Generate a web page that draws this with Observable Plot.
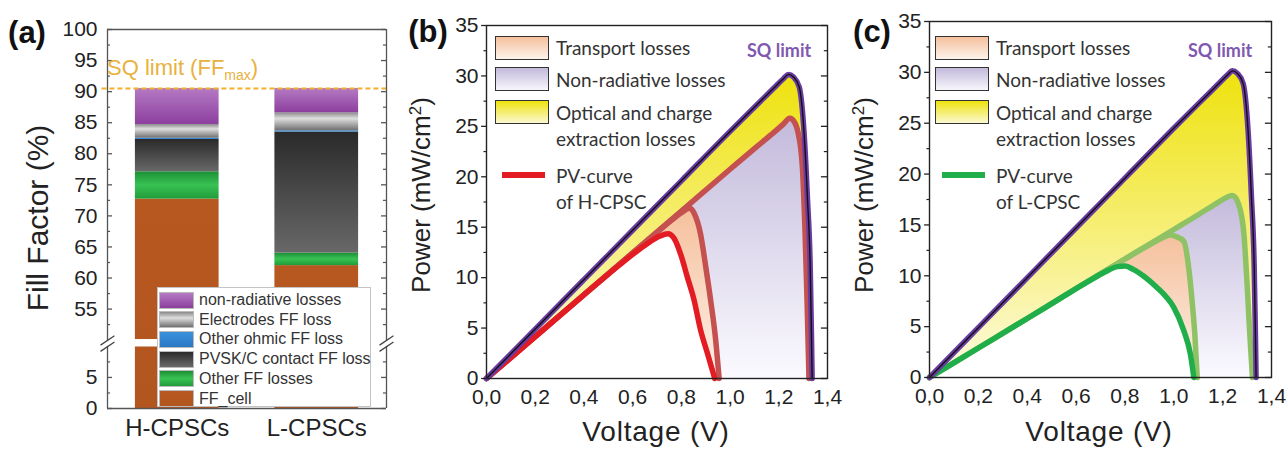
<!DOCTYPE html>
<html><head><meta charset="utf-8">
<script src="https://cdn.jsdelivr.net/npm/d3@7"></script>
<script src="https://cdn.jsdelivr.net/npm/@observablehq/plot@0.6"></script>
<style>
body{margin:0;background:#fff;}
#root{position:relative;width:1287px;height:450px;overflow:hidden;font-family:"Liberation Sans",Arial,sans-serif;color:#222;}
.abs{position:absolute;white-space:nowrap;line-height:1;}
</style></head><body><div id="root"></div>
<script>
// ---------- DATA ----------
// Panel (a): stacked fill-factor contributions (%)
const categories = ["H-CPSCs", "L-CPSCs"];
const lossNames = ["FF_cell", "Other FF losses", "PVSK/C contact FF loss", "Other ohmic FF loss", "Electrodes FF loss", "non-radiative losses"];
const hcpscValues = [72.7, 4.4, 5.2, 0.2, 2.2, 5.8];
const lcpscValues = [62.0, 2.0, 19.5, 0.2, 2.9, 3.9];
const sqLimitFF = 90.5;
const ffTickLabels = [0, 5, 55, 60, 65, 70, 75, 80, 85, 90, 95, 100];
const ffMinorTicks = [2.5, 7.5, 52.5, 57.5, 62.5, 67.5, 72.5, 77.5, 82.5, 87.5, 92.5, 97.5];

// Panels (b),(c): power-voltage curves (V, mW/cm2)
const sqVoltage = [0, 0.2, 0.4, 0.6, 0.8, 1.0, 1.1, 1.18, 1.22, 1.24, 1.26, 1.284, 1.304, 1.318, 1.329, 1.334, 1.337];
const sqPower   = [0, 4.9, 9.8, 14.7, 19.6, 24.5, 26.9, 28.8, 29.75, 30.15, 29.9, 28.9, 24.3, 17.7, 11.1, 4.5, 0];

const hUpperVoltage = [0, 0.2, 0.4, 0.6, 0.8, 1.0, 1.1, 1.18, 1.22, 1.245, 1.265, 1.28, 1.297, 1.308, 1.316, 1.324];
const hUpperPower   = [0, 4.15, 8.3, 12.45, 16.6, 20.75, 22.8, 24.4, 25.25, 25.8, 25.4, 24.3, 20.9, 14.4, 7.8, 0];
const hMidVoltage = [0, 0.2, 0.4, 0.6, 0.7, 0.76, 0.8, 0.835, 0.852, 0.879, 0.9, 0.92, 0.941, 0.955];
const hMidPower   = [0, 4.15, 8.3, 12.45, 14.5, 15.7, 16.45, 16.9, 16.4, 14.3, 11.1, 7.8, 3.8, 0];
const hPvVoltage = [0, 0.2, 0.4, 0.55, 0.65, 0.71, 0.745, 0.77, 0.8, 0.824, 0.852, 0.879, 0.907, 0.927, 0.937];
const hPvPower   = [0, 4.15, 8.3, 11.35, 13.2, 14.1, 14.35, 13.9, 12.1, 10.1, 7.8, 4.8, 2.5, 0.85, 0];

const lUpperVoltage = [0, 0.2, 0.4, 0.6, 0.8, 1.0, 1.1, 1.18, 1.22, 1.24, 1.266, 1.287, 1.3, 1.311, 1.322];
const lUpperPower   = [0, 2.9, 5.8, 8.75, 11.65, 14.55, 16.0, 17.2, 17.75, 17.9, 17.0, 14.1, 9.2, 4.3, 0];
const lMidVoltage = [0, 0.2, 0.4, 0.6, 0.8, 0.9, 0.95, 0.985, 1.01, 1.041, 1.061, 1.075, 1.086, 1.096];
const lMidPower   = [0, 2.9, 5.8, 8.75, 11.65, 13.05, 13.7, 14.0, 13.85, 13.4, 10.8, 7.5, 4.3, 0];
const lPvVoltage = [0, 0.2, 0.4, 0.55, 0.65, 0.72, 0.77, 0.8, 0.836, 0.88, 0.931, 0.97, 1.0, 1.041, 1.068, 1.082];
const lPvPower   = [0, 2.9, 5.8, 8.0, 9.45, 10.4, 10.9, 10.95, 10.6, 9.9, 8.85, 7.9, 6.9, 4.6, 2.3, 0];

const powerTicks = [0, 5, 10, 15, 20, 25, 30, 35];
const powerMinor = [2.5, 7.5, 12.5, 17.5, 22.5, 27.5, 32.5];
const voltageTicks = [0, 0.2, 0.4, 0.6, 0.8, 1.0, 1.2, 1.4];

// ---------- HELPERS ----------
const root = document.getElementById("root");
const FONT = '"Liberation Sans", Arial, sans-serif';
const LFONT = 'Lato, "Open Sans", sans-serif';
function zip(vs, ps) { return vs.map((v, i) => ({v, p: ps[i]})); }
function addText(html, x, y, css, anchor = "center", rotate = 0) {
  const d = document.createElement("div");
  d.className = "abs";
  d.innerHTML = html;
  d.style.cssText += css;
  d.style.left = x + "px";
  d.style.top = y + "px";
  const tx = anchor === "center" ? "-50%" : "0";
  d.style.transform = `translate(${tx},-50%)`;
  if (rotate) { d.style.transform = `translate(-50%,-50%) rotate(${rotate}deg)`; }
  root.appendChild(d);
  return d;
}
function addGradients(svg, list) {
  const defs = d3.select(svg).insert("defs", ":first-child");
  for (const [id, stops] of list) {
    const g = defs.append("linearGradient").attr("id", id).attr("x1", 0).attr("y1", 0).attr("x2", 0).attr("y2", 1);
    for (const [o, c] of stops) g.append("stop").attr("offset", o).attr("stop-color", c);
  }
}
function placeSvg(svg, left) {
  svg.style.position = "absolute";
  svg.style.left = left + "px";
  svg.style.top = "0px";
  svg.style.overflow = "visible";
  root.appendChild(svg);
}

// ---------- PANEL (a) ----------
const BREAK_LO = 10, BREAK_SHIFT = 39;
const toD = v => (v <= BREAK_LO ? v : v - BREAK_SHIFT);
const fromD = d => (d <= BREAK_LO ? d : d + BREAK_SHIFT);
const gradIds = ["ffcell", "other", "pvsk", "ohmic", "electrodes", "nonrad"];
const rows = [];
[hcpscValues, lcpscValues].forEach((vals, ci) => {
  let acc = 0;
  vals.forEach((v, li) => { rows.push({pos: ci + 1, li, y1: acc, y2: acc + v}); acc += v; });
});
const BAR_HALF = 0.3, MAJ = 0.036, MIN = 0.022;
const gapLo = 9.9, gapHi = 11.1;
const svgA = Plot.plot({
  width: 400, height: 450,
  marginLeft: 107, marginRight: 14, marginTop: 29, marginBottom: 42,
  x: {domain: [0.5, 2.5]},
  y: {domain: [0, 61]},
  color: {type: "identity"},
  style: {fontFamily: FONT, fontSize: "21px", color: "#222", background: "transparent"},
  marks: [
    Plot.rect(rows, {x1: r => r.pos - BAR_HALF, x2: r => r.pos + BAR_HALF, y1: r => toD(r.y1), y2: r => toD(r.y2), fill: r => `url(#ga-${gradIds[r.li]})`}),
    Plot.rect([0], {x1: 0.5, x2: 2.5, y1: gapLo, y2: gapHi, fill: "white"}),
    Plot.ruleY([sqLimitFF], {y: v => toD(v), x1: 0.46, x2: 2.52, stroke: "#f2b02c", strokeWidth: 2, strokeDasharray: "5,3"}),
    Plot.ruleY([0, 61], {stroke: "#555", strokeWidth: 1.3}),
    Plot.ruleX([0.5, 2.5], {y1: 0, y2: 10.0, stroke: "#555", strokeWidth: 1.3}),
    Plot.ruleX([0.5, 2.5], {y1: 10.9, y2: 61, stroke: "#555", strokeWidth: 1.3}),
    Plot.link([0.5, 2.5].flatMap(x => [{x, y: 9.2}, {x, y: 10.2}]), {x1: d => d.x - 0.05, x2: d => d.x + 0.05, y1: d => d.y, y2: d => d.y + 1.5, stroke: "#444", strokeWidth: 1.3}),
    Plot.ruleY(ffTickLabels.map(toD), {x1: 0.5, x2: 0.5 + MAJ, stroke: "#555", strokeWidth: 1.3}),
    Plot.ruleY(ffTickLabels.map(toD), {x1: 2.5 - MAJ, x2: 2.5, stroke: "#555", strokeWidth: 1.3}),
    Plot.ruleY(ffMinorTicks.map(toD), {x1: 0.5, x2: 0.5 + MIN, stroke: "#555", strokeWidth: 1.2}),
    Plot.ruleY(ffMinorTicks.map(toD), {x1: 2.5 - MIN, x2: 2.5, stroke: "#555", strokeWidth: 1.2}),
    Plot.axisY({ticks: ffTickLabels.map(toD), tickFormat: d => String(fromD(d)), tickSize: 0, tickPadding: 10, fontSize: 21, label: null}),
    Plot.axisX({ticks: [1, 2], tickFormat: i => categories[i - 1], tickSize: 0, tickPadding: 10, fontSize: 24, label: null})
  ]
});
addGradients(svgA, [
  ["ga-ffcell", [[0, "#b65820"], [1, "#b3551e"]]],
  ["ga-other", [[0, "#1b8f35"], [0.5, "#39c254"], [1, "#1f9c3a"]]],
  ["ga-pvsk", [[0, "#2a2a2a"], [1, "#686868"]]],
  ["ga-ohmic", [[0, "#2e86d4"], [1, "#2e86d4"]]],
  ["ga-electrodes", [[0, "#8a8a8a"], [0.35, "#dedede"], [1, "#707070"]]],
  ["ga-nonrad", [[0, "#b57ac4"], [1, "#8c3f9e"]]]
]);
placeSvg(svgA, 0);

addText("(a)", 27, 33, `font:bold 31px ${FONT};color:#111;`);
addText("Fill Factor (%)", 38, 218, `font:30px ${FONT};color:#222;`, "center", -90);
addText('SQ limit (FF<sub style="font-size:14px;vertical-align:-5px">max</sub>)', 107, 69, `font:22px ${FONT};color:#e8b140;`, "left");

// legend (a)
const swatchCss = {
  "non-radiative losses": "linear-gradient(#b57ac4,#8c3f9e)",
  "Electrodes FF loss": "linear-gradient(#8a8a8a,#dedede 40%,#707070)",
  "Other ohmic FF loss": "linear-gradient(#3a92dc,#2a78c4)",
  "PVSK/C contact FF loss": "linear-gradient(#2a2a2a,#6a6a6a)",
  "Other FF losses": "linear-gradient(#1b8f35,#39c254 50%,#1f9c3a)",
  "FF_cell": "linear-gradient(#b65820,#b3551e)"
};
const legA = document.createElement("div");
legA.style.cssText = "position:absolute;left:157px;top:287px;width:214px;height:120px;background:#fff;border:1px solid #c4c4c4;box-sizing:border-box;";
root.appendChild(legA);
lossNames.slice().reverse().forEach((name, i) => {
  const cy = 12 + i * 19.7;
  const sw = document.createElement("div");
  sw.style.cssText = `position:absolute;left:1px;top:${cy - 8.5}px;width:35px;height:17px;background:${swatchCss[name]};border:1px solid #bbb;box-sizing:border-box;`;
  legA.appendChild(sw);
  const t = document.createElement("div");
  t.className = "abs";
  t.textContent = name;
  t.style.cssText += `left:41px;top:${cy}px;transform:translate(0,-50%);font:16px ${FONT};color:#333;`;
  legA.appendChild(t);
});

// ---------- PANELS (b),(c) ----------
function pvPanel(cfg) {
  const sq = zip(sqVoltage, sqPower);
  const up = zip(cfg.upperV, cfg.upperP), mid = zip(cfg.midV, cfg.midP), pv = zip(cfg.pvV, cfg.pvP);
  const curve = "monotone-x";
  const TK = 0.025, TKm = 0.013;
  const svg = Plot.plot({
    width: cfg.width, height: 450,
    marginLeft: cfg.mL, marginRight: cfg.mR, marginTop: cfg.mT, marginBottom: cfg.mB,
    x: {domain: [0, 1.4]},
    y: {domain: [0, 35]},
    style: {fontFamily: FONT, fontSize: "21px", color: "#222", background: "transparent"},
    marks: [
      Plot.areaY(sq, {x: "v", y: "p", curve, fill: `url(#${cfg.id}-yellow)`}),
      Plot.areaY(up, {x: "v", y: "p", curve, fill: `url(#${cfg.id}-lav)`}),
      Plot.areaY(mid, {x: "v", y: "p", curve, fill: `url(#${cfg.id}-peach)`}),
      Plot.areaY(pv, {x: "v", y: "p", curve, fill: "white"}),
      Plot.line(up, {x: "v", y: "p", curve, stroke: cfg.lossColor, strokeWidth: 5.5}),
      Plot.line(mid, {x: "v", y: "p", curve, stroke: cfg.lossColor, strokeWidth: 5.5}),
      Plot.line(pv, {x: "v", y: "p", curve, stroke: cfg.pvColor, strokeWidth: 5.5}),
      Plot.line(sq, {x: "v", y: "p", curve, stroke: "#6a3ca3", strokeWidth: 5.5}),
      Plot.line(sq, {x: "v", y: "p", curve, stroke: "#111", strokeWidth: 1.4}),
      Plot.frame({stroke: "#222", strokeWidth: 1.4}),
      Plot.ruleY(powerTicks, {x1: -TK * 0.8, x2: 0, stroke: "#222", strokeWidth: 1.3}),
      Plot.ruleY(powerMinor, {x1: -TKm * 0.8, x2: 0, stroke: "#222", strokeWidth: 1.2}),
      Plot.ruleY(powerTicks, {x1: 1.4 - TK, x2: 1.4, stroke: "#222", strokeWidth: 1.3}),
      Plot.ruleY(powerMinor, {x1: 1.4 - TKm, x2: 1.4, stroke: "#222", strokeWidth: 1.2}),
      Plot.axisY({ticks: powerTicks, tickSize: 0, tickPadding: 8, fontSize: 21, label: null}),
      Plot.axisX({ticks: voltageTicks, tickFormat: d => d.toFixed(1).replace(".", ","), tickSize: 0, tickPadding: 11, fontSize: 21, label: null})
    ]
  });
  addGradients(svg, [
    [`${cfg.id}-yellow`, [[0, "#eee20c"], [0.5, "#f6ee72"], [1, "#fdfbe2"]]],
    [`${cfg.id}-lav`, [[0, "#c3badb"], [1, "#fbfaff"]]],
    [`${cfg.id}-peach`, [[0, "#f5c09c"], [1, "#fdf1e8"]]]
  ]);
  placeSvg(svg, cfg.left);

  // labels
  addText(cfg.tag, cfg.tagX, 32, `font:bold 31px ${FONT};color:#111;`);
  addText("Power (mW/cm<sup style='font-size:17px;vertical-align:9px;line-height:0'>2</sup>)", cfg.yLabelX, 195, `font:26px ${FONT};color:#222;`, "center", -90);
  addText("Voltage (V)", cfg.xLabelX, 432, `font:28px ${FONT};color:#222;letter-spacing:0.8px;`);

  // legend
  const sw = [
    ["Transport losses", "linear-gradient(#f5c09c,#fdf3ec)", 36, 47],
    ["Non-radiative losses", "linear-gradient(#c3badb,#f7f6fb)", 67, 79],
    ["Optical and charge", "linear-gradient(#efe30c,#fbf8d2)", 100, 112]
  ];
  const lt = `font:19px ${LFONT};color:#333;`;
  for (const [name, bg, top, cy] of sw) {
    const b = document.createElement("div");
    b.style.cssText = `position:absolute;left:${cfg.swX}px;top:${top}px;width:54px;height:24px;background:${bg};border:1.5px solid #333;box-sizing:border-box;`;
    root.appendChild(b);
    addText(name, cfg.swX + 61, cy, lt, "left");
  }
  addText("extraction losses", cfg.swX + 61, 138, lt, "left");
  const ln = document.createElement("div");
  ln.style.cssText = `position:absolute;left:${cfg.swX + 7}px;top:172px;width:43px;height:6px;background:${cfg.pvColor};`;
  root.appendChild(ln);
  addText("PV-curve", cfg.swX + 61, 175, lt, "left");
  addText(cfg.pvName, cfg.swX + 61, 201, lt, "left");
  addText("SQ limit", cfg.sqX, 50, `font:bold 18px ${LFONT};color:#8058b0;`, "left");
}

pvPanel({
  id: "pb", tag: "(b)", tagX: 428, left: 400, width: 440, mL: 86, mR: 13, mT: 25, mB: 72,
  upperV: hUpperVoltage, upperP: hUpperPower, midV: hMidVoltage, midP: hMidPower, pvV: hPvVoltage, pvP: hPvPower,
  lossColor: "#c4504f", pvColor: "#e31b23", yLabelX: 421, xLabelX: 656, swX: 495, sqX: 747, pvName: "of H-CPSC"
});
pvPanel({
  id: "pc", tag: "(c)", tagX: 872, left: 840, width: 447, mL: 89, mR: 16, mT: 21, mB: 73,
  upperV: lUpperVoltage, upperP: lUpperPower, midV: lMidVoltage, midP: lMidPower, pvV: lPvVoltage, pvP: lPvPower,
  lossColor: "#8fc265", pvColor: "#1fae4a", yLabelX: 864, xLabelX: 1099, swX: 935, sqX: 1188, pvName: "of L-CPSC"
});
</script>
</body></html>
